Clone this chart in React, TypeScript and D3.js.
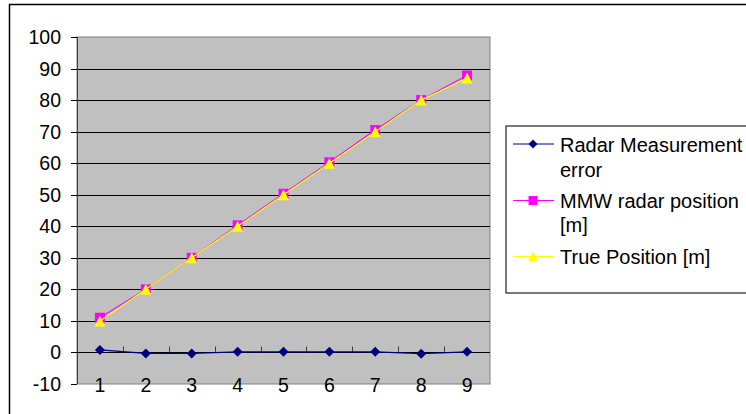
import React from "react";
import * as d3 from "d3";

// Category labels along the x axis
const categories = ["1", "2", "3", "4", "5", "6", "7", "8", "9"];

// Series values
const radarError = [0.8, -0.3, -0.3, 0.2, 0.2, 0.2, 0.2, -0.4, 0.2];
const mmwPosition = [11, 20, 30, 40.3, 50.3, 60.3, 70.5, 80, 87.8];
const truePosition = [10, 20, 30, 40, 50, 60, 70, 80, 87];

// Y axis ticks
const yTicks = [-10, 0, 10, 20, 30, 40, 50, 60, 70, 80, 90, 100];

const seriesNames = [
  ["Radar Measurement", "error"],
  ["MMW radar position", "[m]"],
  ["True Position [m]"],
];

const W = 746;
const H = 414;
const plot = { left: 77, right: 490, top: 37, bottom: 384 };
const FONT = "'Liberation Sans', Arial, sans-serif";

// Triangle symbol sized by its bounding box (width = height = sqrt(size))
const triangleBox: d3.SymbolType = {
  draw(ctx, size) {
    const s = Math.sqrt(size);
    ctx.moveTo(0, -s / 2);
    ctx.lineTo(s / 2, s / 2);
    ctx.lineTo(-s / 2, s / 2);
    ctx.closePath();
  },
};

const series = [
  { values: radarError, color: "#000080", symbol: d3.symbolSquare, size: 50, rotate: 45 },
  { values: mmwPosition, color: "#FF00FF", symbol: d3.symbolSquare, size: 100, rotate: 0 },
  { values: truePosition, color: "#FFFF00", symbol: triangleBox, size: 121, rotate: 0 },
];

export default function App() {
  const x = d3
    .scaleBand<string>()
    .domain(categories)
    .range([plot.left, plot.right])
    .paddingInner(0)
    .paddingOuter(0);
  const y = d3.scaleLinear().domain([-10, 100]).range([plot.bottom, plot.top]);
  const cx = (c: string) => (x(c) ?? 0) + x.bandwidth() / 2;

  const line = d3
    .line<number>()
    .x((_, i) => cx(categories[i]))
    .y((v) => y(v));

  const y0 = Math.round(y(0)) + 0.5;

  const legendRows = [144, 200.5, 256.5];
  const legendBaselines = [
    [151.5, 176.5],
    [207.5, 232],
    [263.5],
  ];

  return (
    <svg
      width={W}
      height={H}
      style={{ position: "absolute", left: 0, top: 0, background: "#fff" }}
      fontFamily={FONT}
    >
      <rect x={0} y={0} width={W} height={H} fill="#fff" />
      {/* chart frame */}
      <rect x={9.5} y={4.5} width={W + 20} height={H + 20} fill="none" stroke="#000" strokeWidth={1.5} />

      {/* plot area */}
      <rect
        x={plot.left}
        y={plot.top}
        width={plot.right - plot.left}
        height={plot.bottom - plot.top}
        fill="#C0C0C0"
        stroke="#808080"
        strokeWidth={1}
      />

      {/* horizontal gridlines */}
      {yTicks
        .filter((t) => t !== -10 && t !== 0 && t !== 100)
        .map((t) => (
          <line
            key={t}
            x1={plot.left}
            x2={plot.right}
            y1={Math.round(y(t)) + 0.5}
            y2={Math.round(y(t)) + 0.5}
            stroke="#000"
            strokeWidth={1}
          />
        ))}

      {/* value axis */}
      <line x1={plot.left + 0.5} x2={plot.left + 0.5} y1={plot.top} y2={plot.bottom} stroke="#404040" />
      {yTicks.map((t) => (
        <g key={t}>
          <line
            x1={plot.left - 6}
            x2={plot.left}
            y1={Math.round(y(t)) + 0.5}
            y2={Math.round(y(t)) + 0.5}
            stroke="#000"
          />
          <text x={61} y={y(t) + 7} textAnchor="end" fontSize={19.5} fill="#000">
            {t}
          </text>
        </g>
      ))}

      {/* category axis at zero */}
      <line x1={plot.left} x2={plot.right} y1={y0} y2={y0} stroke="#000" />
      {categories.map((c, i) => {
        const bx = Math.round(x(c) ?? 0) + 0.5;
        return i === 0 ? null : (
          <line key={c} x1={bx} x2={bx} y1={y0} y2={y0 - 6} stroke="#404040" />
        );
      })}
      {categories.map((c) => (
        <text key={c} x={cx(c)} y={392} textAnchor="middle" fontSize={19.5} fill="#000">
          {c}
        </text>
      ))}

      {/* series */}
      {series.map((s, si) => (
        <g key={si}>
          <path d={line(s.values) ?? ""} fill="none" stroke={s.color} strokeWidth={1.2} />
          {s.values.map((v, i) => (
            <path
              key={i}
              d={d3.symbol(s.symbol, s.size)() ?? ""}
              transform={`translate(${cx(categories[i])},${y(v)}) rotate(${s.rotate})`}
              fill={s.color}
            />
          ))}
        </g>
      ))}

      {/* legend */}
      <rect x={506} y={126} width={300} height={167} fill="#fff" stroke="#222" strokeWidth={1.2} />
      {series.map((s, si) => (
        <g key={si}>
          <line x1={513} x2={554} y1={legendRows[si]} y2={legendRows[si]} stroke={s.color} strokeWidth={1.2} />
          <path
            d={d3.symbol(s.symbol, s.size * 0.8)() ?? ""}
            transform={`translate(533,${legendRows[si]}) rotate(${s.rotate})`}
            fill={s.color}
          />
          {seriesNames[si].map((t, li) => (
            <text key={li} x={560} y={legendBaselines[si][li]} fontSize={20} fill="#000">
              {t}
            </text>
          ))}
        </g>
      ))}
    </svg>
  );
}
